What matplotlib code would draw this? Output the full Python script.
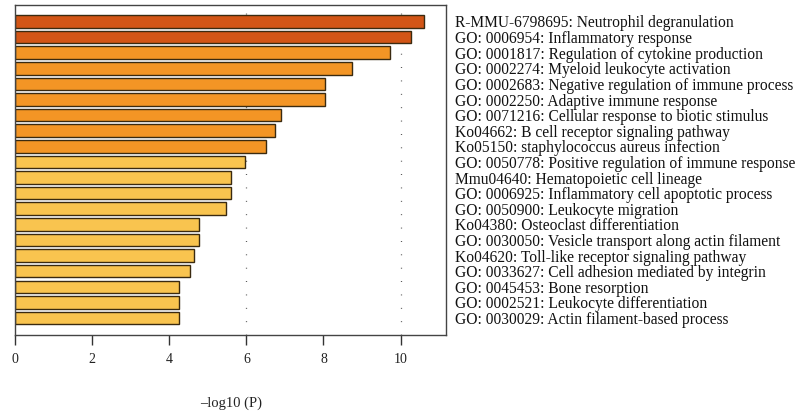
import matplotlib
matplotlib.use("Agg")
import matplotlib.pyplot as plt
import numpy as np

# terms, top to bottom
terms = [
    "R-MMU-6798695: Neutrophil degranulation",
    "GO: 0006954: Inflammatory response",
    "GO: 0001817: Regulation of cytokine production",
    "GO: 0002274: Myeloid leukocyte activation",
    "GO: 0002683: Negative regulation of immune process",
    "GO: 0002250: Adaptive immune response",
    "GO: 0071216: Cellular response to biotic stimulus",
    "Ko04662: B cell receptor signaling pathway",
    "Ko05150: staphylococcus aureus infection",
    "GO: 0050778: Positive regulation of immune response",
    "Mmu04640: Hematopoietic cell lineage",
    "GO: 0006925: Inflammatory cell apoptotic process",
    "GO: 0050900: Leukocyte migration",
    "Ko04380: Osteoclast differentiation",
    "GO: 0030050: Vesicle transport along actin filament",
    "Ko04620: Toll-like receptor signaling pathway",
    "GO: 0033627: Cell adhesion mediated by integrin",
    "GO: 0045453: Bone resorption",
    "GO: 0002521: Leukocyte differentiation",
    "GO: 0030029: Actin filament-based process",
]
# -log10(P)
neg_log_p = [10.6, 10.26, 9.72, 8.73, 8.03, 8.03, 6.91, 6.75, 6.52, 5.96,
             5.59, 5.59, 5.46, 4.76, 4.76, 4.63, 4.53, 4.24, 4.24, 4.24]
# colour group of each bar (0 = darkest)
groups = [0, 0, 1, 1, 1, 1, 1, 1, 1, 2, 2, 2, 2, 2, 2, 2, 2, 2, 2, 2]
x_ticks = [0, 2, 4, 6, 8, 10]

palette = ["#D25516", "#F39525", "#F9C44F"]
serif = "Liberation Serif"


def main():
    fig = plt.figure(figsize=(8, 4.12), dpi=100)
    ax = fig.add_axes([0.019, 0.187, 0.539, 0.801])

    y = np.arange(len(terms))
    # dotted guide lines behind the bars
    for gx in [6, 10]:
        ax.axvline(gx, color="#444444", linestyle=(0, (0.7, 10)),
                   linewidth=0.9, zorder=0)
    ax.barh(y, neg_log_p, height=0.8,
            color=[palette[g] for g in groups],
            edgecolor="#3a2a10", linewidth=1.0, zorder=2)

    ax.set_xlim(0, 11.19)
    ax.set_ylim(len(terms) - 1 + 1.09, -1.06)

    # term names on the right side
    ax.yaxis.tick_right()
    ax.set_yticks(y)
    ax.set_yticklabels(terms, family=serif, fontsize=11.2, color="#111111")
    ax.tick_params(axis="y", length=0, pad=6)

    ax.set_xticks(x_ticks)
    ax.set_xticklabels([str(t) for t in x_ticks], family=serif,
                       fontsize=10, color="#222222")
    ax.tick_params(axis="x", direction="out", length=7, width=1,
                   color="#333333", pad=6)
    ax.set_xlabel("\u2013log10 (P)", family=serif, fontsize=10.5,
                  color="#222222", labelpad=22)

    for s in ax.spines.values():
        s.set_color("#444444")
        s.set_linewidth(1.0)

    fig.savefig("out.png", dpi=100)


if __name__ == "__main__":
    main()
